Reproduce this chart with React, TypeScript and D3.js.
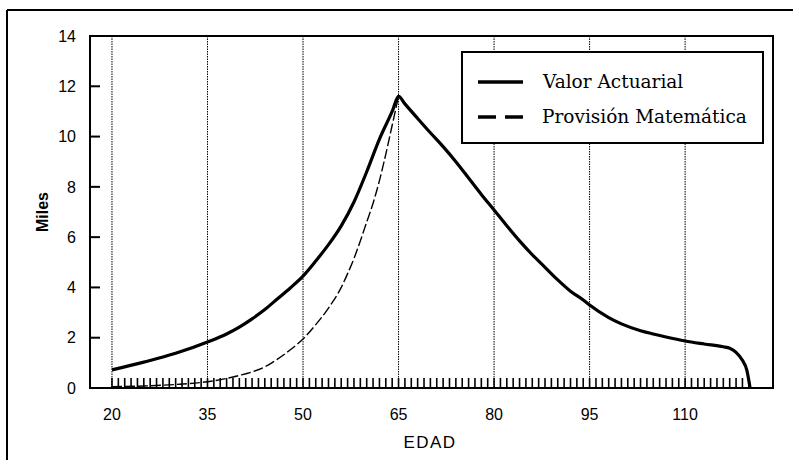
import React from "react";
import * as d3 from "d3";

const xTicks = [20, 35, 50, 65, 80, 95, 110];
const yTicks = [0, 2, 4, 6, 8, 10, 12, 14];

const valorAges = [20, 25, 30, 35, 38, 40, 42, 44, 46, 48, 50, 52, 54, 56, 58, 60, 62, 64, 65, 66, 68, 70, 72, 74, 76, 78, 80, 82, 84, 86, 88, 90, 92, 94, 95, 98, 100, 103, 105, 107, 110, 113, 116, 117, 118, 119, 119.7, 120.2];
const valorValues = [0.72, 1.03, 1.38, 1.83, 2.15, 2.42, 2.75, 3.12, 3.55, 3.98, 4.45, 5.05, 5.7, 6.45, 7.4, 8.6, 9.9, 11.0, 11.6, 11.3, 10.72, 10.15, 9.6, 9.0, 8.35, 7.7, 7.08, 6.45, 5.85, 5.3, 4.8, 4.3, 3.85, 3.5, 3.3, 2.8, 2.55, 2.28, 2.15, 2.03, 1.87, 1.75, 1.64, 1.58, 1.42, 1.1, 0.7, 0];

const provAges = [20, 25, 30, 35, 38, 40, 42, 44, 46, 48, 50, 52, 54, 56, 57, 58, 59, 60, 61, 62, 63, 64, 65];
const provValues = [0.05, 0.08, 0.14, 0.25, 0.38, 0.5, 0.64, 0.84, 1.15, 1.52, 1.95, 2.52, 3.18, 4.0, 4.55, 5.15, 5.85, 6.6, 7.35, 8.25, 9.3, 10.45, 11.6];

const rugAges = d3.range(20, 121, 1);

const legendLabels = ["Valor Actuarial", "Provisión Matemática"];

export default function App() {
  const W = 793, H = 460;
  const left = 90, right = 773, top = 36, bottom = 388;
  const x = d3.scaleLinear().domain([16.55, 123.8]).range([left, right]);
  const y = d3.scaleLinear().domain([0, 14]).range([bottom, top]);

  const line = d3
    .line<[number, number]>()
    .x((d) => x(d[0]))
    .y((d) => y(d[1]))
    .curve(d3.curveMonotoneX);

  const valorPath = line(valorAges.map((a, i) => [a, valorValues[i]]) as [number, number][]) || "";
  const provPath = line(provAges.map((a, i) => [a, provValues[i]]) as [number, number][]) || "";

  const sans = "'Liberation Sans', Arial, sans-serif";
  const serif = "'DejaVu Serif', serif";

  return (
    <svg
      width={W}
      height={H}
      style={{ position: "absolute", left: 0, top: 0, background: "#fff" }}
    >
      <rect x={0} y={0} width={W} height={H} fill="#fff" />
      {/* outer frame */}
      <line x1={7} y1={10} x2={W} y2={10} stroke="#000" strokeWidth={2} />
      <line x1={7} y1={10} x2={7} y2={H} stroke="#000" strokeWidth={2} />

      {/* grid lines */}
      {xTicks.map((t) => (
        <line
          key={"g" + t}
          x1={x(t)}
          x2={x(t)}
          y1={top}
          y2={bottom}
          stroke="#000"
          strokeWidth={1}
          strokeDasharray="1.5,1"
        />
      ))}

      {/* rug ticks */}
      {rugAges.map((a) => (
        <line
          key={"r" + a}
          x1={x(a)}
          x2={x(a)}
          y1={bottom - 10}
          y2={bottom}
          stroke="#000"
          strokeWidth={1.6}
        />
      ))}

      {/* curves */}
      <path d={provPath} fill="none" stroke="#000" strokeWidth={1.4} strokeDasharray="10,3" />
      <path d={valorPath} fill="none" stroke="#000" strokeWidth={3.2} strokeLinejoin="round" />

      {/* plot box */}
      <rect x={left} y={top} width={right - left} height={bottom - top} fill="none" stroke="#000" strokeWidth={2} />

      {/* y ticks */}
      {yTicks.map((t) => (
        <g key={"y" + t}>
          {t > 0 && t < 14 && (
            <line x1={left} x2={left + 10} y1={y(t)} y2={y(t)} stroke="#000" strokeWidth={2} />
          )}
          <text
            x={76}
            y={y(t)}
            dy="0.36em"
            textAnchor="end"
            fontFamily={sans}
            fontSize={16}
            fill="#000"
          >
            {t}
          </text>
        </g>
      ))}

      {/* x tick labels */}
      {xTicks.map((t) => (
        <text
          key={"x" + t}
          x={x(t)}
          y={420}
          textAnchor="middle"
          fontFamily={sans}
          fontSize={16}
          fill="#000"
        >
          {t}
        </text>
      ))}

      {/* axis titles */}
      <text
        x={430}
        y={448}
        textAnchor="middle"
        fontFamily={sans}
        fontSize={17}
        letterSpacing={1.5}
        fill="#000"
      >
        EDAD
      </text>
      <text
        transform="translate(48,212) rotate(-90)"
        textAnchor="middle"
        fontFamily={sans}
        fontSize={16}
        fontWeight="bold"
        fill="#000"
      >
        Miles
      </text>

      {/* legend */}
      <rect x={462} y={52} width={301} height={91} fill="#fff" stroke="#000" strokeWidth={2} />
      <line x1={478} x2={523} y1={82} y2={82} stroke="#000" strokeWidth={3.5} />
      <line x1={478} x2={523} y1={117} y2={117} stroke="#000" strokeWidth={3.5} strokeDasharray="18,9" />
      <text x={543} y={88} fontFamily={serif} fontSize={18.5} fill="#000">
        {legendLabels[0]}
      </text>
      <text x={542} y={123} fontFamily={serif} fontSize={18.5} fill="#000">
        {legendLabels[1]}
      </text>
    </svg>
  );
}
